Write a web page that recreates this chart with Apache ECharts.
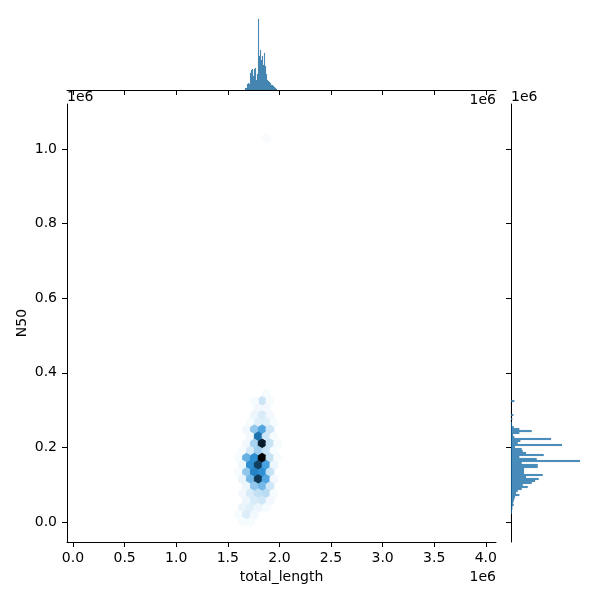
<!DOCTYPE html>
<html><head><meta charset="utf-8">
<script src="https://cdn.jsdelivr.net/npm/echarts@6/dist/echarts.min.js"></script>
<style>html,body{margin:0;padding:0;background:#fff}#c{width:600px;height:600px}</style>
</head><body><div id="c"></div>
<script>
// ---- tick labels ----
const xTicks = [0, 500000, 1000000, 1500000, 2000000, 2500000, 3000000, 3500000, 4000000];
const yTicks = [0, 200000, 400000, 600000, 800000, 1000000];

// ---- hexbin cells: centre (total_length, N50) and count ----
const hexX = [
  1871000,
  1871000,
  1833000, 1757000, 1909000,
  1795000, 1871000,
  1757000, 1833000, 1909000,
  1719000, 1795000, 1871000, 1947000,
  1682000, 1757000, 1833000, 1909000,
  1719000, 1795000, 1871000, 1947000,
  1682000, 1757000, 1833000, 1909000, 1984000,
  1644000, 1719000, 1795000, 1871000, 1947000,
  1606000, 1682000, 1757000, 1833000, 1909000, 1984000,
  1644000, 1719000, 1795000, 1871000, 1947000,
  1606000, 1682000, 1757000, 1833000, 1909000,
  1644000, 1719000, 1795000, 1871000, 1947000,
  1682000, 1757000, 1833000, 1909000,
  1644000, 1719000, 1795000, 1871000, 1947000,
  1682000, 1757000, 1833000, 1909000,
  1644000, 1719000, 1795000, 1871000,
  1606000, 1682000, 1757000,
  1644000, 1719000
];
const hexY = [
  1028700,
  342900,
  323850, 323850, 323850,
  304800, 304800,
  285750, 285750, 285750,
  266700, 266700, 266700, 266700,
  247650, 247650, 247650, 247650,
  228600, 228600, 228600, 228600,
  209550, 209550, 209550, 209550, 209550,
  190500, 190500, 190500, 190500, 190500,
  171450, 171450, 171450, 171450, 171450, 171450,
  152400, 152400, 152400, 152400, 152400,
  133350, 133350, 133350, 133350, 133350,
  114300, 114300, 114300, 114300, 114300,
  95250, 95250, 95250, 95250,
  76200, 76200, 76200, 76200, 76200,
  57150, 57150, 57150, 57150,
  38100, 38100, 38100, 38100,
  19050, 19050, 19050,
  0, 0
];
const hexCount = [
  1.5,
  2,
  12, 2, 2,
  3, 3,
  4, 9, 3,
  2, 7, 7, 2,
  3, 25, 40, 11,
  3, 60, 11, 2,
  3, 20, 90, 13, 2,
  2, 9, 22, 13, 2,
  2, 35, 50, 100, 13, 2,
  4, 50, 78, 42, 4,
  2, 25, 55, 50, 13,
  5, 32, 80, 40, 3,
  4, 25, 32, 11,
  3, 9, 14, 16, 2,
  4, 9, 11, 3,
  5, 7, 4, 2,
  2, 8, 3,
  2, 2
];

// ---- top marginal histogram (total_length) ----
const topHistStart = 1666700;
const topHistWidth = 9690;
const topHistCounts = [2, 2, 6, 7, 6, 17, 20, 21, 14, 21, 22, 10, 16, 71, 34, 40, 30, 34, 25, 37, 24, 16, 10, 9, 8, 7, 5, 5, 4, 3, 2, 1];

// ---- right marginal histogram (N50) ----
const rightHistStart = 0;
const rightHistWidth = 5360;
const rightHistCounts = [
  0, 0, 0, 0, 1, 1, 1.3, 1.3, 2.7, 2,
  2.7, 3.3, 4, 8.3, 5, 6.7, 10.7, 16.7, 11.7, 20.7,
  24, 27.7, 15, 31.7, 13, 13, 13, 26.7, 26.7, 10.7,
  69, 25.7, 8.3, 32.7, 15, 11.7, 10.7, 4, 51, 6.7,
  9.3, 40, 3.3, 2, 8.3, 20.7, 8.3, 2.7, 1, 1,
  0, 1.3, 0, 2.3, 0, 0, 0, 0, 0, 0, 3.3
];

// ---- styling constants ----
const HEX_SX = 75600, HEX_SY = 38100;
const X_MIN = -58140, X_MAX = 4098800;
const Y_MIN = -53620, Y_MAX = 1120640;
const FONT = 'DejaVu Sans';

function hls2rgb(h, l, s) {
  if (s === 0) return [l, l, l];
  const m2 = l <= 0.5 ? l * (1 + s) : l + s - l * s;
  const m1 = 2 * l - m2;
  const v = (hue) => {
    hue = ((hue % 1) + 1) % 1;
    if (hue < 1 / 6) return m1 + (m2 - m1) * hue * 6;
    if (hue < 0.5) return m2;
    if (hue < 2 / 3) return m1 + (m2 - m1) * (2 / 3 - hue) * 6;
    return m1;
  };
  return [v(h + 1 / 3), v(h), v(h - 1 / 3)];
}
function rgb2hls(r, g, b) {
  const mx = Math.max(r, g, b), mn = Math.min(r, g, b);
  const l = (mx + mn) / 2;
  if (mx === mn) return [0, l, 0];
  const s = l <= 0.5 ? (mx - mn) / (mx + mn) : (mx - mn) / (2 - mx - mn);
  const rc = (mx - r) / (mx - mn), gc = (mx - g) / (mx - mn), bc = (mx - b) / (mx - mn);
  let h;
  if (r === mx) h = bc - gc; else if (g === mx) h = 2 + rc - bc; else h = 4 + gc - rc;
  h = ((h / 6) % 1 + 1) % 1;
  return [h, l, s];
}
const base = rgb2hls(31 / 255, 119 / 255, 180 / 255);
const palette = [];
for (let i = 0; i < 12; i++) {
  const l = 1 - i / 11;
  const c = hls2rgb(base[0], l, base[2]).map(v => Math.round(Math.min(1, Math.max(0, v)) * 255));
  palette.push('rgb(' + c.join(',') + ')');
}

const hexData = hexX.map((x, i) => [x, hexY[i], hexCount[i]]);
const topData = topHistCounts.map((c, i) => [topHistStart + i * topHistWidth, topHistStart + (i + 1) * topHistWidth, c]);
const rightData = rightHistCounts.map((c, i) => [rightHistStart + i * rightHistWidth, rightHistStart + (i + 1) * rightHistWidth, c]);

const axisLineStyle = { color: '#000', width: 1 };
const labelStyle = { color: '#000', fontSize: 14, fontFamily: FONT };
const histFill = 'rgba(31,119,180,0.8)';
const histStroke = 'rgba(0,0,0,0.15)';

const chart = echarts.init(document.getElementById('c'), null, { renderer: 'canvas' });
chart.setOption({
  animation: false,
  backgroundColor: '#fff',
  grid: [
    { left: 67, top: 104, width: 429, height: 438 },
    { left: 67, top: 16, width: 429, height: 74 },
    { left: 511, top: 104, width: 74, height: 438 }
  ],
  xAxis: [
    {
      gridIndex: 0, type: 'value', min: X_MIN, max: X_MAX,
      axisLine: { show: true, onZero: false, lineStyle: axisLineStyle },
      axisTick: { show: true, length: 5, customValues: xTicks, lineStyle: axisLineStyle },
      axisLabel: { customValues: xTicks, margin: 9, formatter: v => (v / 1e6).toFixed(1), ...labelStyle },
      splitLine: { show: false },
      name: 'total_length', nameLocation: 'middle', nameGap: 28, nameMoveOverlap: false,
      nameTextStyle: labelStyle
    },
    {
      gridIndex: 1, type: 'value', min: X_MIN, max: X_MAX,
      axisLine: { show: true, onZero: false, lineStyle: axisLineStyle },
      axisTick: { show: true, length: 5, customValues: xTicks, lineStyle: axisLineStyle },
      axisLabel: { show: false },
      splitLine: { show: false }
    },
    {
      gridIndex: 2, type: 'value', min: 0, max: 74, show: false,
      splitLine: { show: false }
    }
  ],
  yAxis: [
    {
      gridIndex: 0, type: 'value', min: Y_MIN, max: Y_MAX,
      axisLine: { show: true, onZero: false, lineStyle: axisLineStyle },
      axisTick: { show: true, length: 5, customValues: yTicks, lineStyle: axisLineStyle },
      axisLabel: { customValues: yTicks, margin: 10, formatter: v => (v / 1e6).toFixed(1), ...labelStyle },
      splitLine: { show: false },
      name: 'N50', nameLocation: 'middle', nameGap: 38, nameRotate: 90, nameMoveOverlap: false,
      nameTextStyle: labelStyle
    },
    {
      gridIndex: 1, type: 'value', min: 0, max: 74, show: false,
      splitLine: { show: false }
    },
    {
      gridIndex: 2, type: 'value', min: Y_MIN, max: Y_MAX,
      axisLine: { show: true, onZero: false, lineStyle: axisLineStyle },
      axisTick: { show: true, length: 5, customValues: yTicks, lineStyle: axisLineStyle },
      axisLabel: { show: false },
      splitLine: { show: false }
    }
  ],
  visualMap: {
    show: false, type: 'continuous', seriesIndex: 0, dimension: 2,
    min: 0, max: 100, inRange: { color: palette }
  },
  series: [
    {
      type: 'custom', xAxisIndex: 0, yAxisIndex: 0,
      data: hexData,
      encode: { x: 0, y: 1 },
      renderItem: function (params, api) {
        const c = api.coord([api.value(0), api.value(1)]);
        const s = api.size([HEX_SX, HEX_SY]);
        const w = s[0], h = s[1] / 3;
        const pts = [[.5, -.5], [.5, .5], [0, 1], [-.5, .5], [-.5, -.5], [0, -1]]
          .map(p => [c[0] + p[0] * w, c[1] - p[1] * h]);
        const col = api.visual('color');
        return { type: 'polygon', shape: { points: pts }, style: { fill: col, stroke: col, lineWidth: 1 } };
      }
    },
    {
      type: 'custom', xAxisIndex: 1, yAxisIndex: 1,
      data: topData,
      encode: { x: [0, 1], y: 2 },
      renderItem: function (params, api) {
        const p0 = api.coord([api.value(0), api.value(2)]);
        const p1 = api.coord([api.value(1), 0]);
        return {
          type: 'rect',
          shape: { x: p0[0], y: p0[1], width: p1[0] - p0[0], height: p1[1] - p0[1] },
          style: { fill: histFill, stroke: histStroke, lineWidth: 0.4 }
        };
      }
    },
    {
      type: 'custom', xAxisIndex: 2, yAxisIndex: 2,
      data: rightData,
      encode: { x: 2, y: [0, 1] },
      renderItem: function (params, api) {
        const p0 = api.coord([0, api.value(1)]);
        const p1 = api.coord([api.value(2), api.value(0)]);
        return {
          type: 'rect',
          shape: { x: p0[0], y: p0[1], width: p1[0] - p0[0], height: p1[1] - p0[1] },
          style: { fill: histFill, stroke: histStroke, lineWidth: 0.4 }
        };
      }
    }
  ],
  graphic: [
    { type: 'text', left: 67, top: 90, style: { text: '1e6', fill: '#000', font: '14px "DejaVu Sans"' } },
    { type: 'text', left: 511, top: 90, style: { text: '1e6', fill: '#000', font: '14px "DejaVu Sans"' } },
    { type: 'text', right: 104, top: 93, style: { text: '1e6', fill: '#000', font: '14px "DejaVu Sans"' } },
    { type: 'text', right: 104, top: 570, style: { text: '1e6', fill: '#000', font: '14px "DejaVu Sans"' } }
  ]
});
</script>
</body></html>
